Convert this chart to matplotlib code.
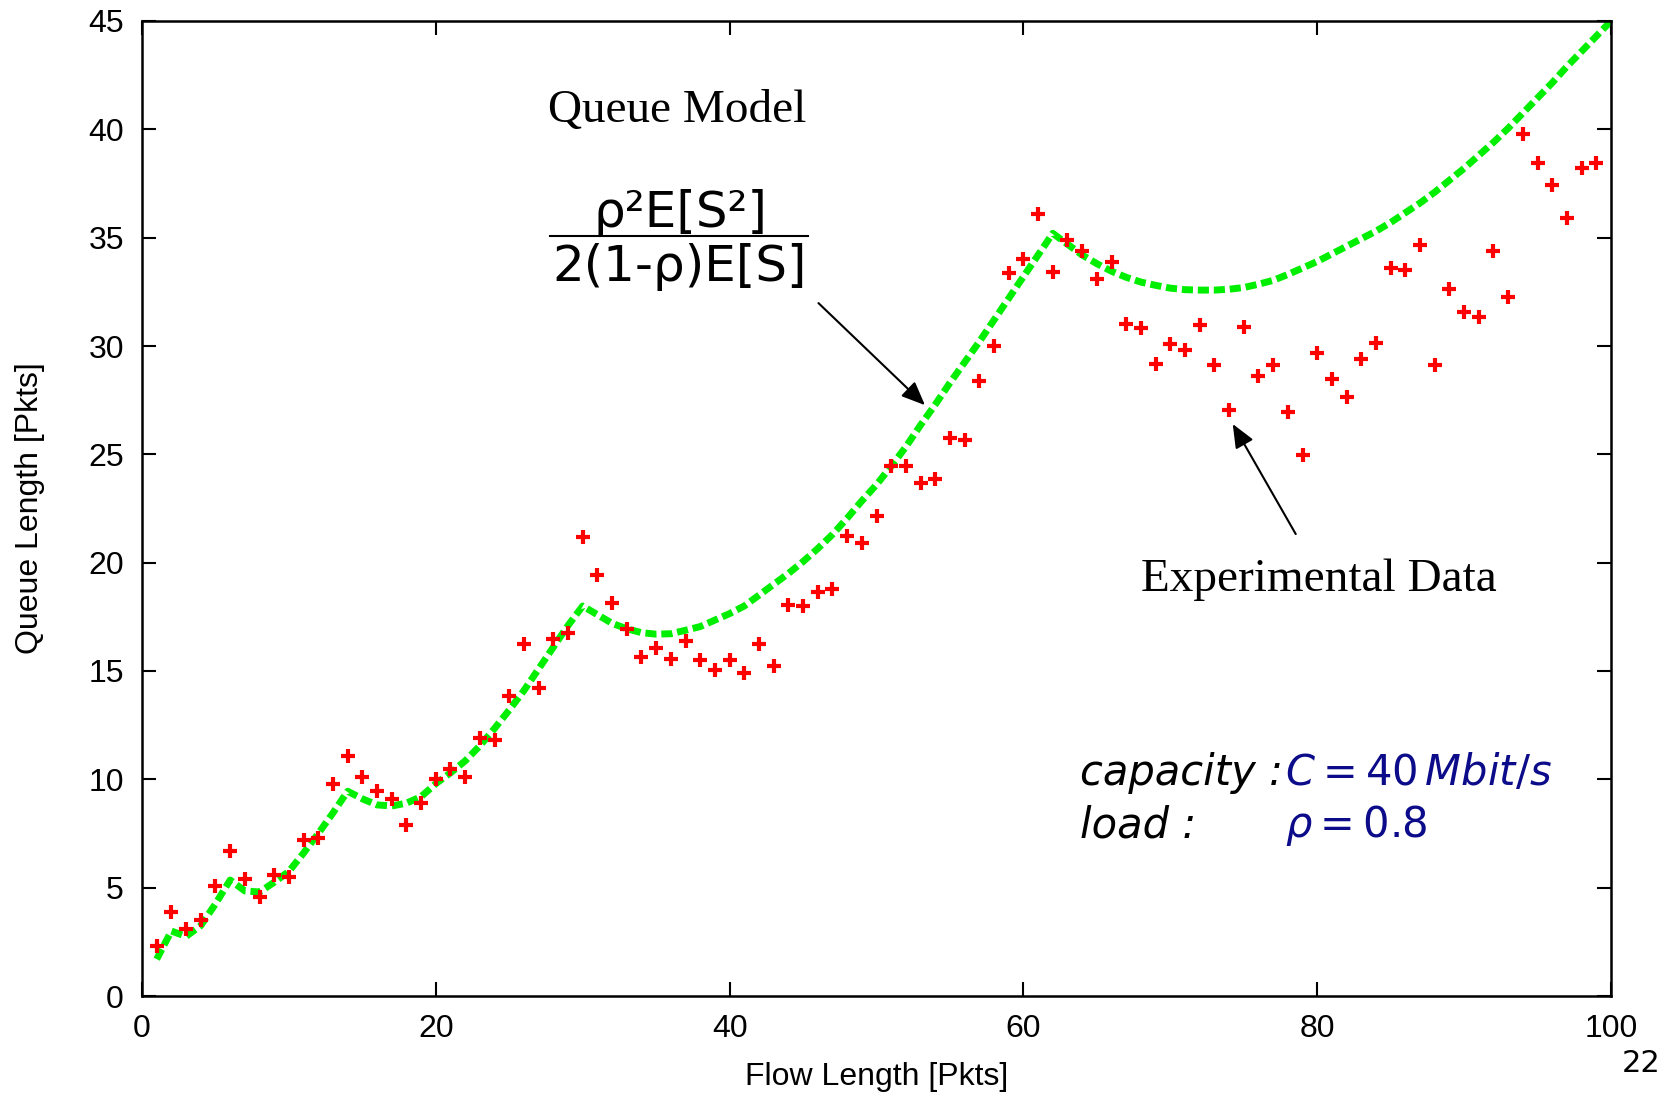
import matplotlib
matplotlib.use("Agg")
import matplotlib.pyplot as plt
from matplotlib.lines import Line2D

# ---------------- data ----------------
flow_len = list(range(1, 100))
queue_measured = [2.3, 3.9, 3.1, 3.5, 5.1, 6.7, 5.4, 4.55, 5.6, 5.5,
                  7.2, 7.3, 9.8, 11.1, 10.1, 9.45, 9.1, 7.9, 8.9, 10.0,
                  10.5, 10.1, 11.9, 11.8, 13.85, 16.25, 14.2, 16.5, 16.75, 21.2,
                  19.45, 18.15, 16.95, 15.65, 16.05, 15.55, 16.4, 15.5, 15.05, 15.5,
                  14.9, 16.25, 15.25, 18.05, 18.0, 18.65, 18.8, 21.25, 20.9, 22.15,
                  24.45, 24.45, 23.7, 23.85, 25.75, 25.65, 28.4, 30.0, 33.35, 34.0,
                  36.1, 33.4, 34.9, 34.4, 33.1, 33.9, 31.0, 30.85, 29.15, 30.1,
                  29.8, 30.95, 29.1, 27.05, 30.9, 28.6, 29.1, 26.95, 24.95, 29.7,
                  28.5, 27.65, 29.4, 30.15, 33.6, 33.5, 34.65, 29.1, 32.65, 31.55,
                  31.35, 34.4, 32.25, 39.8, 38.45, 37.45, 35.9, 38.2, 38.45]

model_len = list(range(1, 101))
queue_model = [1.7, 3.0, 2.75, 3.25, 4.25, 5.35, 4.85, 4.8, 5.25, 5.75,
               6.6, 7.5, 8.45, 9.45, 9.1, 8.82, 8.77, 8.9, 9.2, 9.8,
               10.3, 10.85, 11.55, 12.35, 13.2, 14.1, 15.1, 16.1, 17.1, 18.0,
               17.6, 17.2, 16.95, 16.77, 16.7, 16.72, 16.88, 17.05, 17.35, 17.65,
               18.0, 18.5, 19.0, 19.5, 20.05, 20.65, 21.3, 22.05, 22.85, 23.6,
               24.45, 25.35, 26.35, 27.3, 28.3, 29.25, 30.2, 31.2, 32.2, 33.2,
               34.2, 35.2, 34.7, 34.2, 33.8, 33.45, 33.17, 32.95, 32.8, 32.67,
               32.6, 32.58, 32.58, 32.62, 32.7, 32.85, 33.03, 33.3, 33.6, 33.9,
               34.25, 34.6, 34.95, 35.3, 35.7, 36.15, 36.6, 37.1, 37.65, 38.2,
               38.8, 39.4, 40.05, 40.75, 41.45, 42.15, 42.9, 43.6, 44.3, 45.0]

x_ticks = [0, 20, 40, 60, 80, 100]
y_ticks = [0, 5, 10, 15, 20, 25, 30, 35, 40, 45]

# ---------------- figure ----------------
W, H = 1665, 1096
fig = plt.figure(figsize=(W / 100, H / 100), dpi=100)
L, R, T, B = 142, 1611, 21, 996
ax = fig.add_axes([L / W, (H - B) / H, (R - L) / W, (B - T) / H])

ax.plot(model_len, queue_model, color='#00ee00', lw=5.0,
        linestyle=(0, (1.6, 0.7)), dash_capstyle='butt', zorder=2)
ax.plot(flow_len, queue_measured, linestyle='none', marker='+',
        markersize=10, markeredgewidth=3.0, color='#ff0000', zorder=3)

ax.set_xlim(0, 100)
ax.set_ylim(0, 45)
ax.set_xticks(x_ticks)
ax.set_yticks(y_ticks)
sans = 'Liberation Sans'
ax.tick_params(direction='in', length=10, width=1.5, top=True, right=True,
               labelsize=23, pad=13)
for lab in ax.get_xticklabels() + ax.get_yticklabels():
    lab.set_family(sans)
for s in ax.spines.values():
    s.set_linewidth(1.8)

ax.set_xlabel('Flow Length [Pkts]', fontsize=23, family=sans)
ax.set_ylabel('Queue Length [Pkts]', fontsize=23, family=sans)
ax.xaxis.set_label_coords(0.5, -0.068)
ax.yaxis.set_label_coords(-0.066, 0.5)


def fx(px):
    return px / W


def fy(py):
    return 1 - py / H


serif = 'Liberation Serif'
fig.text(fx(677), fy(122), 'Queue Model', family=serif, fontsize=34,
         ha='center', va='baseline')
fig.text(fx(1141), fy(591), 'Experimental Data', family=serif, fontsize=34,
         ha='left', va='baseline')

# fraction
fig.text(fx(680), fy(227), 'ρ²E[S²]', family='DejaVu Sans', fontsize=36,
         ha='center', va='baseline')
fig.text(fx(680), fy(281), '2(1-ρ)E[S]', family='DejaVu Sans', fontsize=36,
         ha='center', va='baseline')
fig.add_artist(Line2D([fx(550), fx(808)], [fy(236), fy(236)],
                      transform=fig.transFigure, color='black', lw=1.5))

# parameters
plt.rcParams['mathtext.fontset'] = 'dejavusans'
navy = '#0c0c8a'
fig.text(fx(1080), fy(785), 'capacity :', family='DejaVu Sans', style='italic',
         fontsize=30, ha='left', va='baseline')
fig.text(fx(1285), fy(785), r'$C=40\,Mbit/s$', fontsize=30, color=navy,
         ha='left', va='baseline')
fig.text(fx(1080), fy(837), 'load :', family='DejaVu Sans', style='italic',
         fontsize=30, ha='left', va='baseline')
fig.text(fx(1285), fy(837), r'$\rho=0.8$', fontsize=30, color=navy,
         ha='left', va='baseline')

# arrows
arrow_kw = dict(arrowstyle='-|>,head_length=0.9,head_width=0.38',
                color='black', lw=1.5, mutation_scale=16, shrinkA=0, shrinkB=0)
ax.annotate('', xy=(53.3, 27.27), xytext=(46.05, 31.98), arrowprops=arrow_kw)
ax.annotate('', xy=(74.25, 26.4), xytext=(78.54, 21.32), arrowprops=arrow_kw)

# slide page number
fig.text(fx(1622), fy(1072), '22', family='DejaVu Sans', fontsize=22,
         ha='left', va='baseline')

fig.savefig('out.png', dpi=100)
